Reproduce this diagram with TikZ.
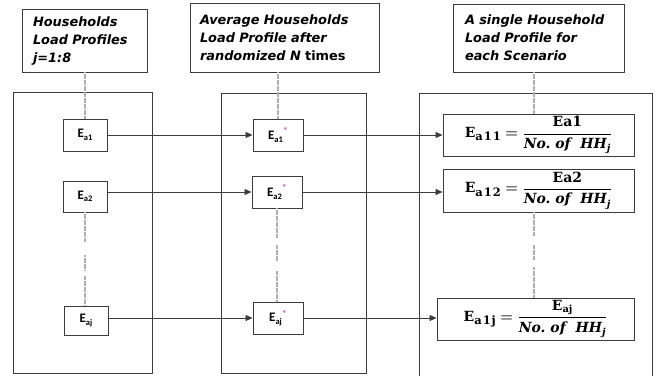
\documentclass[tikz,border=0pt]{standalone}
\usepackage{fontspec}
\usepackage{amsmath}
\newfontfamily\tfont{DejaVu Sans}
\newfontfamily\efont{Carlito}
\newfontfamily\mfont{DejaVu Serif}
\newfontfamily\msub[LetterSpace=8]{DejaVu Serif}
\usetikzlibrary{arrows.meta,calc}
\definecolor{ln}{RGB}{60,60,60}
\definecolor{dotc}{RGB}{175,175,175}
\definecolor{starc}{RGB}{185,100,170}
\newcommand\Elab[1]{E\raisebox{-2.6pt}{\fontsize{8.5}{9}\selectfont #1}}
\newcommand\Estar{\raisebox{4.5pt}{\color{starc}\fontsize{10}{10}\selectfont *}}
\newcommand\mb[1]{\text{\mfont\bfseries #1}}
\newcommand\mbi[1]{\text{\mfont\bfseries\itshape #1}}
\newcommand\msb[1]{\raisebox{-3.5pt}{\msub\bfseries\fontsize{11.5}{11.5}\selectfont #1}}
\tikzset{
  titlebox/.style={draw=ln, line width=0.9pt, align=left, inner ysep=0pt,
    font=\tfont\bfseries\itshape\fontsize{12.9}{18}\selectfont},
  bigbox/.style={draw=ln, line width=0.9pt},
  ebox/.style={draw=ln, fill=white, line width=0.9pt, inner sep=0pt,
    font=\efont\bfseries\fontsize{13}{14}\selectfont},
  fbox/.style={draw=ln, fill=white, line width=0.9pt, inner sep=0pt,
    font=\boldmath\fontsize{14}{16}\selectfont},
  arr/.style={draw=ln, line width=0.8pt, -{Triangle[length=7pt,width=6pt]}},
  dotl/.style={draw=dotc, line width=1.2pt, dash pattern=on 0.6pt off 0.6pt}
}
\begin{document}
\begin{tikzpicture}[x=1pt,y=-1pt]
\useasboundingbox (0,0) rectangle (661,375);
\fill[white] (0,0) rectangle (661,375);

% title boxes
\node[titlebox, minimum width=125pt, minimum height=63pt, text width=103pt, inner xsep=11pt] (t1) at (84.5,40.5)
  {Households\\Load Profiles\\j=1:8};
\node[titlebox, minimum width=189pt, minimum height=69pt, text width=169pt, inner xsep=10pt] (t2) at (284.5,37.5)
  {Average Households\\Load Profile after\\randomized N {\upshape times}};
\node[titlebox, minimum width=171pt, minimum height=68pt, text width=147pt, inner xsep=12pt] (t3) at (538.5,38)
  {A single Household\\Load Profile for\\each Scenario};

% big frames
\node[bigbox, minimum width=139pt, minimum height=281.5pt] (b1) at (82.5,232.75) {};
\node[bigbox, minimum width=145pt, minimum height=280.5pt] (b2) at (293.5,233.25) {};
\coordinate (b3a) at (419,378);
\coordinate (b3b) at (419,93);
\coordinate (b3c) at (652,93);
\coordinate (b3d) at (652,378);
\draw[ln, line width=0.9pt] (b3a) -- (b3b) -- (b3c) -- (b3d);

% small boxes
\node[ebox, minimum width=44pt, minimum height=32pt] (e1) at (85,135) {\Elab{a1}};
\node[ebox, minimum width=44pt, minimum height=31pt] (e2) at (85,196.5) {\Elab{a2}};
\node[ebox, minimum width=44pt, minimum height=29pt] (e3) at (86,320.5) {\Elab{aj}};
\node[ebox, minimum width=50pt, minimum height=32pt] (s1) at (278,135) {\Elab{a1}\Estar};
\node[ebox, minimum width=50pt, minimum height=32pt] (s2) at (277,192) {\Elab{a2}\Estar};
\node[ebox, minimum width=50pt, minimum height=32pt] (s3) at (278,318) {\Elab{aj}\Estar};
\node[fbox, minimum width=191pt, minimum height=42pt] (f1) at (538.5,135)
  {$\mb{E}\msb{a11}=\dfrac{\mb{Ea1}}{\mbi{No.\ of\ \ HH}_{\mbi{j}}}$};
\node[fbox, minimum width=191pt, minimum height=43pt] (f2) at (538.5,190.5)
  {$\mb{E}\msb{a12}=\dfrac{\mb{Ea2}}{\mbi{No.\ of\ \ HH}_{\mbi{j}}}$};
\node[fbox, minimum width=197pt, minimum height=42pt] (f3) at (535.5,319)
  {$\mb{E}\msb{a1j}=\dfrac{\mb{E}_{\mb{aj}}}{\mbi{No.\ of\ \ HH}_{\mbi{j}}}$};

% arrows
\draw[arr] (e1.east) -- (s1.west);
\draw[arr] (e2.east |- s2.west) -- (s2.west);
\draw[arr] (e3.east |- s3.west) -- (s3.west);
\draw[arr] (s1.east) -- (f1.west |- s1.east);
\draw[arr] (s2.east) -- (f2.west |- s2.east);
\draw[arr] (s3.east) -- (f3.west |- s3.east);

% dotted guides
\coordinate (c3) at (534,0);
\draw[dotl] (e1.north |- t1.south) -- (e1.north);
\draw[dotl] (s1.north |- t2.south) -- (s1.north);
\draw[dotl] (c3 |- t3.south) -- (c3 |- f1.north);
\foreach \a/\b in {0/0.32,0.46/0.62,0.68/1}{
  \draw[dotl] ($(e2.south)!\a!(e2.south |- e3.north)$) -- ($(e2.south)!\b!(e2.south |- e3.north)$);
}
\foreach \a/\b in {0/0.32,0.39/0.57,0.67/1}{
  \draw[dotl] ($(s2.south)!\a!(s2.south |- s3.north)$) -- ($(s2.south)!\b!(s2.south |- s3.north)$);
}
\foreach \a/\b in {0/0.28,0.38/0.56,0.64/1}{
  \draw[dotl] ($(c3 |- f2.south)!\a!(c3 |- f3.north)$) -- ($(c3 |- f2.south)!\b!(c3 |- f3.north)$);
}
\end{tikzpicture}
\end{document}
